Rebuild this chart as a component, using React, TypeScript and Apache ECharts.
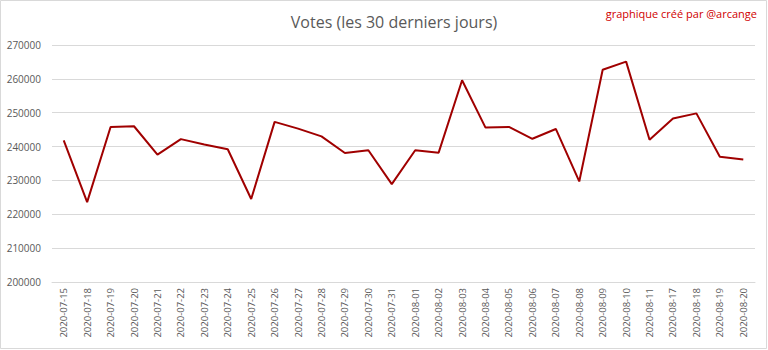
import React, { useEffect, useRef } from "react";
import * as echarts from "echarts";

const categories: string[] = [
  "2020-07-15", "2020-07-18", "2020-07-19", "2020-07-20", "2020-07-21", "2020-07-22",
  "2020-07-23", "2020-07-24", "2020-07-25", "2020-07-26", "2020-07-27", "2020-07-28",
  "2020-07-29", "2020-07-30", "2020-07-31", "2020-08-01", "2020-08-02", "2020-08-03",
  "2020-08-04", "2020-08-05", "2020-08-06", "2020-08-07", "2020-08-08", "2020-08-09",
  "2020-08-10", "2020-08-11", "2020-08-17", "2020-08-18", "2020-08-19", "2020-08-20",
];

const votes: number[] = [
  241800, 223600, 245800, 246000, 237600, 242200,
  240600, 239200, 224500, 247300, 245300, 243000,
  238100, 238900, 228900, 238900, 238200, 259600,
  245600, 245800, 242300, 245200, 229700, 262700,
  265100, 242000, 248300, 249800, 237000, 236200,
];

const yMin = 200000;
const yMax = 270000;
const yStep = 10000;

export default function App() {
  const ref = useRef<HTMLDivElement>(null);
  useEffect(() => {
    if (!ref.current) return;
    const chart = echarts.init(ref.current, null, { renderer: "svg" });
    chart.setOption({
      animation: false,
      backgroundColor: "#ffffff",
      title: {
        text: "Votes (les 30 derniers jours)",
        left: 389,
        top: 9,
        textAlign: "center",
        textStyle: {
          fontFamily: "Open Sans",
          fontSize: 16,
          fontWeight: "normal",
          color: "#595959",
        },
      },
      graphic: [
        {
          type: "rect",
          shape: { x: 0.5, y: 0.5, width: 766, height: 348 },
          style: { fill: "none", stroke: "#d9d9d9", lineWidth: 1 },
          silent: true,
        },
        {
          type: "text",
          right: 11,
          top: 8,
          style: {
            text: "graphique créé par @arcange",
            fontFamily: "Open Sans",
            fontSize: 11,
            fill: "#d00000",
          },
        },
      ],
      grid: { left: 52, right: 13, top: 45, bottom: 68, containLabel: false },
      xAxis: {
        type: "category",
        data: categories,
        boundaryGap: true,
        axisLine: { show: true, lineStyle: { color: "#d9d9d9", width: 1 } },
        axisTick: { show: false },
        axisLabel: {
          rotate: 90,
          interval: 0,
          margin: 6,
          fontFamily: "Open Sans",
          fontSize: 9.5,
          color: "#595959",
        },
      },
      yAxis: {
        type: "value",
        min: yMin,
        max: yMax,
        interval: yStep,
        axisLine: { show: false },
        axisTick: { show: false },
        splitLine: { lineStyle: { color: "#d9d9d9", width: 1 } },
        axisLabel: {
          margin: 11,
          fontFamily: "Open Sans",
          fontSize: 10,
          color: "#595959",
          formatter: (v: number) => String(v),
        },
      },
      series: [
        {
          type: "line",
          data: votes,
          symbol: "none",
          lineStyle: { color: "#a00000", width: 2 },
          itemStyle: { color: "#a00000" },
        },
      ],
    });
    return () => chart.dispose();
  }, []);
  return (
    <div
      ref={ref}
      style={{ position: "absolute", left: 0, top: 0, width: 768, height: 350 }}
    />
  );
}
